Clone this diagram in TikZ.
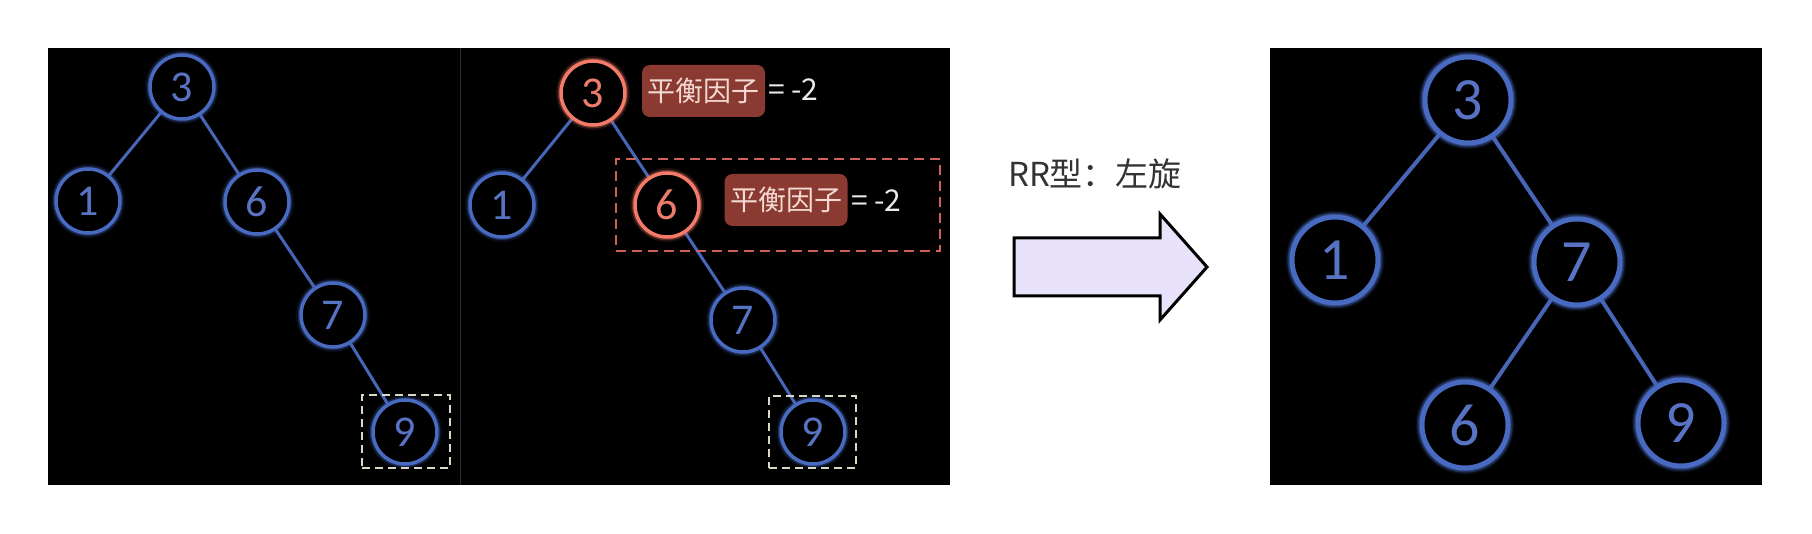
\documentclass[tikz,border=0pt]{standalone}
\usepackage{fontspec}
\setmainfont{Carlito}
\newfontfamily\cjk{Noto Sans CJK SC}
\pgfdeclarelayer{bg}
\pgfdeclarelayer{edges}
\pgfsetlayers{bg,edges,main}
\definecolor{nodeblue}{RGB}{72,106,192}
\definecolor{edgeblue}{RGB}{72,102,184}
\definecolor{digitblue}{RGB}{88,114,196}
\definecolor{nodered}{RGB}{244,122,106}
\definecolor{digitred}{RGB}{238,124,108}
\definecolor{labelred}{RGB}{139,58,50}
\definecolor{labeltext}{RGB}{242,217,210}
\definecolor{dashwhite}{RGB}{216,216,200}
\definecolor{dashred}{RGB}{208,96,88}
\definecolor{arrowfill}{RGB}{232,226,250}
\definecolor{sepgray}{RGB}{45,45,45}
\definecolor{txtgray}{RGB}{51,51,51}
\tikzset{
  circ/.style={circle, inner sep=0pt, minimum size=64pt, fill=black,
    draw=#1, line width=3.5pt,
    preaction={draw=#1, line width=10pt, opacity=0.12},
    preaction={draw=#1, line width=6.5pt, opacity=0.3}},
  bluecirc/.style={circ=nodeblue, text=digitblue, font=\fontsize{44}{44}\selectfont},
  redcirc/.style={circ=nodered, text=digitred, font=\fontsize{44}{44}\selectfont},
  bigcirc/.style={circ=nodeblue, minimum size=86pt, line width=5pt,
    preaction={draw=nodeblue, line width=13pt, opacity=0.12},
    preaction={draw=nodeblue, line width=9pt, opacity=0.3},
    text=digitblue, font=\fontsize{60}{60}\selectfont},
  edge/.style={draw=edgeblue, line width=3pt},
  bigedge/.style={draw=edgeblue, line width=4pt},
  bflabel/.style={fill=labelred, rounded corners=8pt, text=labeltext,
    minimum width=123pt, minimum height=52pt, inner sep=0pt,
    font=\cjk\fontsize{28}{28}\selectfont},
  eqtext/.style={anchor=west, inner sep=0pt, text=white!92!black,
    font=\cjk\fontsize{30}{30}\selectfont},
  wdash/.style={draw=dashwhite, line width=2pt, dash pattern=on 8pt off 5pt},
  rdash/.style={draw=dashred, line width=2.5pt, dash pattern=on 10pt off 6pt}
}
\begin{document}
\begin{tikzpicture}[x=1pt,y=-1pt]
\useasboundingbox (0,0) rectangle (1812,534);
\begin{pgfonlayer}{bg}
  \fill[white] (0,0) rectangle (1812,534);
  \fill[black] (48,48) rectangle (950,485);
  \draw[sepgray, line width=1.5pt] (460.5,48) -- (460.5,485);
  \fill[black] (1270,48) rectangle (1762,485);
\end{pgfonlayer}

% panel 1
\node[bluecirc] (a3) at (182,87) {3};
\node[bluecirc] (a1) at (88,201) {1};
\node[bluecirc] (a6) at (257,202) {6};
\node[bluecirc] (a7) at (333,315) {7};
\node[bluecirc] (a9) at (405,432) {9};
\node[wdash, minimum width=88pt, minimum height=73pt, inner sep=0pt] (box1) at (406,431.5) {};

% panel 2
\node[redcirc] (b3) at (593,93) {3};
\node[bluecirc] (b1) at (502,205) {1};
\node[redcirc] (b6) at (667,205) {6};
\node[bluecirc] (b7) at (743,320) {7};
\node[bluecirc] (b9) at (813,432) {9};
\node[wdash, minimum width=87pt, minimum height=72pt, inner sep=0pt] (box2) at (812.5,432) {};
\node[rdash, minimum width=324pt, minimum height=92pt, inner sep=0pt] (box3) at (778,205) {};
\node[bflabel] (l1) at (703.5,91) {平衡因子};
\node[eqtext] (e1) at (768,90) {= -2};
\node[bflabel] (l2) at (786,200) {平衡因子};
\node[eqtext] (e2) at (851,201) {= -2};

% middle
\node[text=txtgray, font=\cjk\fontsize{33}{33}\selectfont, inner sep=0pt] (title) at (1095,174) {RR型：左旋};
\draw[black, line width=3pt, line join=miter, fill=arrowfill]
  (1014,238) -- (1160,238) -- (1160,214) -- (1207,267) -- (1160,320) -- (1160,296) -- (1014,296) -- cycle;

% panel 3
\node[bigcirc] (c3) at (1468,100) {3};
\node[bigcirc] (c1) at (1335,260) {1};
\node[bigcirc] (c7) at (1577,262) {7};
\node[bigcirc] (c6) at (1465,425) {6};
\node[bigcirc] (c9) at (1681,423) {9};

\begin{pgfonlayer}{edges}
  \draw[edge] (a3) -- (a1);
  \draw[edge] (a3) -- (a6);
  \draw[edge] (a6) -- (a7);
  \draw[edge] (a7) -- (a9);
  \draw[edge] (b3) -- (b1);
  \draw[edge] (b3) -- (b6);
  \draw[edge] (b6) -- (b7);
  \draw[edge] (b7) -- (b9);
  \draw[bigedge] (c3) -- (c1);
  \draw[bigedge] (c3) -- (c7);
  \draw[bigedge] (c7) -- (c6);
  \draw[bigedge] (c7) -- (c9);
\end{pgfonlayer}
\end{tikzpicture}
\end{document}
